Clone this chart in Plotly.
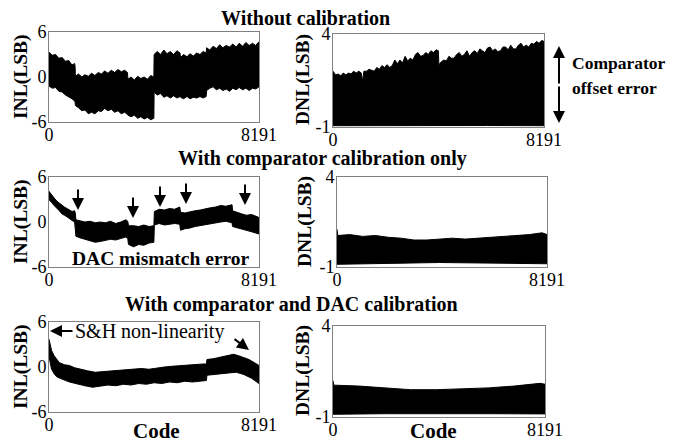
import plotly.graph_objects as go

# ---------------- data ----------------
N_CODES = 8191

# Panel 1: INL without calibration (upper / lower envelope, shared codes)
inl1_x = [0, 128, 256, 384, 512, 640, 768, 896, 1000, 1020,
          1030, 1150, 1280, 1400, 1536, 1660, 1790, 1920, 2048, 2170, 2300, 2430, 2560,
          2690, 2820, 2950, 3060,
          3080, 3200, 3330, 3460, 3580, 3710, 3840, 3970, 4090,
          4100, 4220, 4350, 4480, 4600, 4730, 4860, 4990, 5110,
          5130, 5250, 5380, 5500, 5630, 5760, 5890, 6010, 6130,
          6150, 6270, 6400, 6530, 6660, 6780, 6910, 7040, 7170, 7300, 7420, 7550,
          7680, 7810, 7940, 8060, 8191]
inl1_up = [3.3, 2.9, 3.0, 2.5, 2.6, 2.1, 2.2, 1.6, 1.8, 1.3,
           0.1, 0.4, 0.0, 0.3, 0.1, 0.5, 0.2, 0.6, 0.4, 0.8, 0.5, 0.9, 0.6,
           1.0, 0.7, 0.9, 0.6,
           -0.3, 0.0, -0.4, 0.1, -0.2, 0.0, -0.3, 0.2, 0.0,
           3.0, 3.4, 3.0, 3.6, 3.1, 3.4, 3.0, 3.5, 3.2,
           2.6, 3.0, 2.7, 3.1, 2.8, 3.2, 3.0, 3.4, 3.2,
           3.9, 3.6, 4.1, 3.8, 4.3, 3.9, 4.2, 4.0, 4.4, 4.0, 4.5, 4.1,
           4.6, 4.2, 4.5, 4.2, 4.7]
inl1_lo = [-1.2, -1.5, -1.4, -1.9, -2.0, -2.4, -2.7, -2.9, -3.2, -3.4,
           -3.8, -4.1, -4.5, -4.4, -4.9, -4.7, -4.9, -4.5, -4.6, -4.2, -4.5, -4.3, -4.7,
           -4.5, -4.9, -4.7, -5.0,
           -5.1, -5.3, -5.1, -5.5, -5.3, -5.6, -5.4, -5.7, -5.5,
           -2.0, -2.4, -2.2, -2.7, -2.5, -2.8, -2.5, -2.8, -2.6,
           -2.7, -2.9, -2.6, -2.9, -2.7, -2.8, -2.6, -2.8, -2.6,
           -1.8, -1.5, -1.3, -1.7, -1.5, -1.8, -1.6, -1.9, -1.5, -1.7, -1.4, -1.7,
           -1.5, -1.8, -1.5, -1.6, -1.3]

# Panel 2: DNL without calibration
dnl1_up_x = [0, 100, 200, 300, 400, 500, 600, 700, 800, 900, 1000, 1100, 1150, 1200,
             1300, 1400, 1500, 1600, 1700, 1800, 1900, 2000, 2100, 2200, 2300, 2400, 2500,
             2600, 2700, 2800, 2900, 3000, 3100, 3200, 3300, 3400, 3500, 3600, 3700, 3800,
             3900, 4000, 4090,
             4110, 4200, 4300, 4400, 4500, 4600, 4700, 4800, 4900, 5000, 5100, 5200, 5300,
             5400, 5500, 5600, 5700, 5800, 5900, 6000, 6100, 6200, 6300, 6400, 6500, 6600,
             6700, 6800, 6900, 7000, 7100, 7200, 7300, 7400, 7500, 7600, 7700, 7800, 7900,
             8000, 8100, 8191]
dnl1_up_y = [2.0, 1.8, 1.85, 1.75, 1.9, 1.8, 1.9, 1.85, 2.0, 1.9, 2.0, 1.9, 1.45, 2.0,
             2.0, 2.1, 2.05, 2.0, 2.2, 2.1, 2.3, 2.2, 2.35, 2.2, 2.3, 2.6, 2.4,
             2.6, 2.45, 2.8, 2.55, 2.7, 2.6, 2.9, 3.0, 2.8, 2.85, 3.0, 2.9, 3.1,
             3.0, 3.15, 3.1,
             2.35, 2.5, 2.6, 2.55, 2.8, 2.7, 2.7, 2.9, 3.0, 2.8, 2.9, 3.1, 2.8,
             3.0, 3.1, 2.95, 3.2, 3.1, 3.0, 3.25, 3.3, 3.1, 3.2, 3.05, 3.1, 3.3,
             3.3, 3.15, 3.4, 3.2, 3.2, 3.4, 3.5, 3.3, 3.4, 3.3, 3.5, 3.45, 3.6,
             3.5, 3.65, 3.6]
dnl1_lo_x = [0, 2000, 4000, 6000, 8191]
dnl1_lo_y = [-0.93, -0.92, -0.93, -0.92, -0.93]

# Panel 3: INL with comparator calibration only
inl2_x = [0, 100, 200, 300, 400, 500, 600, 700, 800, 900, 1000, 1024,
          1050, 1200, 1400, 1600, 1800, 2000, 2200, 2400, 2600, 2800, 3000, 3072,
          3100, 3300, 3500, 3700, 3900, 4090,
          4110, 4300, 4500, 4700, 4900, 5100,
          5130, 5300, 5500, 5700, 5900, 6100, 6300, 6500, 6700, 6900, 7140,
          7160, 7300, 7500, 7700, 7900, 8191]
inl2_up = [4.1, 3.6, 3.2, 2.8, 2.5, 2.2, 2.0, 1.8, 1.6, 1.4, 1.5, 1.2,
           0.3, 0.2, 0.0, 0.1, -0.1, 0.0, -0.1, 0.1, -0.2, 0.0, 0.3, 0.1,
           -0.5, -0.5, -0.6, -0.4, -0.6, -0.5,
           1.4, 1.7, 1.6, 1.8, 1.7, 2.0,
           1.3, 1.2, 1.4, 1.5, 1.6, 1.8, 1.9, 2.0, 2.2, 2.1, 2.3,
           1.5, 1.3, 1.1, 0.9, 1.0, 0.6]
inl2_lo = [3.0, 2.6, 2.2, 1.8, 1.5, 1.1, 0.9, 0.7, 0.5, 0.2, 0.0, -0.2,
           -1.9, -2.1, -2.4, -2.5, -2.7, -2.6, -2.5, -2.3, -2.4, -2.2, -2.0, -2.2,
           -3.0, -3.3, -3.0, -3.1, -2.8, -2.7,
           -0.4, -0.2, -0.4, -0.3, -0.2, -0.3,
           -1.1, -0.9, -0.8, -0.6, -0.5, -0.3, -0.2, -0.1, 0.0, 0.1, -0.1,
           -0.6, -0.8, -0.9, -1.1, -1.3, -1.6]

# Panel 4: DNL with comparator calibration only
dnl2_up_x = [0, 30, 500, 1000, 1500, 2000, 2500, 3000, 3500, 4000, 4500, 5000,
             5500, 6000, 6500, 7000, 7500, 8000, 8191]
dnl2_up_y = [1.1, 0.75, 0.8, 0.7, 0.75, 0.65, 0.6, 0.5, 0.5, 0.55, 0.6, 0.55,
             0.6, 0.65, 0.7, 0.75, 0.8, 0.9, 0.8]
dnl2_lo_x = [0, 2000, 4000, 6000, 8191]
dnl2_lo_y = [-0.85, -0.8, -0.75, -0.78, -0.82]

# Panel 5: INL with comparator and DAC calibration
inl3_up_x = [0, 50, 100, 200, 300, 400, 600, 800, 1000, 1200, 1500, 1800, 2100,
             2400, 2700, 3000, 3300, 3600, 3900, 4200, 4500, 4800, 5100, 5400,
             5700, 6000, 6140, 6160, 6400, 6700, 7000, 7200, 7400, 7600, 7800, 8000, 8191]
inl3_up_y = [3.7, 3.0, 2.2, 1.5, 1.0, 0.6, 0.3, 0.2, -0.1, -0.3, -0.5, -0.7, -0.6,
             -0.5, -0.4, -0.4, -0.3, -0.2, -0.3, -0.1, 0.0, 0.1, 0.2, 0.3,
             0.3, 0.4, 0.4, 1.0, 1.1, 1.3, 1.5, 1.7, 1.5, 1.3, 1.0, 0.6, 0.2]
inl3_lo_x = [0, 50, 100, 200, 300, 500, 800, 1100, 1400, 1700, 2000, 2300, 2600,
             2900, 3200, 3500, 3800, 4100, 4400, 4700, 5000, 5300, 5600, 5900,
             6140, 6160, 6400, 6700, 7000, 7300, 7600, 7900, 8191]
inl3_lo_y = [1.5, 0.5, -0.3, -0.9, -1.3, -1.6, -2.0, -2.3, -2.5, -2.7, -2.6, -2.4, -2.5,
             -2.3, -2.4, -2.2, -2.3, -2.1, -2.2, -2.0, -2.1, -1.9, -2.0, -1.9,
             -1.8, -1.1, -1.0, -0.9, -0.8, -0.7, -1.0, -1.5, -2.2]

# Panel 6: DNL with comparator and DAC calibration
dnl3_up_x = [0, 30, 1000, 2000, 3000, 4000, 5000, 6000, 7000, 8000, 8191]
dnl3_up_y = [1.0, 0.75, 0.7, 0.6, 0.5, 0.5, 0.55, 0.6, 0.7, 0.85, 0.8]
dnl3_lo_x = [0, 2000, 4000, 6000, 8191]
dnl3_lo_y = [-0.85, -0.82, -0.8, -0.82, -0.83]

x_ticks = [0, 8191]
x_ticktext = ["0", "8191"]
inl_ticks = [-6, 0, 6]
inl_ticktext = ["-6", "0", "6"]
dnl_ticks = [-1, 4]
dnl_ticktext = ["-1", "4"]

titles = ["Without calibration", "With comparator calibration only",
          "With comparator and DAC calibration"]

# ---------------- layout constants (pixels, in window coordinates) ----------------
OFF = 8            # page body margin
W, H = 675, 442    # figure size (overflow is cut by the window)
boxes = [  # x0, x1, y0(top), y1(bottom)
    (49, 259, 32, 122),
    (333, 544, 34, 127),
    (49, 259, 177, 267),
    (337, 547, 177, 267),
    (49, 259, 322, 412),
    (333, 545, 326, 417),
]

def px(x):
    return (x - OFF) / W

def py(y):
    return 1 - (y - OFF) / H

SERIF = "Liberation Serif"
fig = go.Figure()

envelopes = [
    (inl1_x, inl1_up, inl1_x, inl1_lo),
    (dnl1_up_x, dnl1_up_y, dnl1_lo_x, dnl1_lo_y),
    (inl2_x, inl2_up, inl2_x, inl2_lo),
    (dnl2_up_x, dnl2_up_y, dnl2_lo_x, dnl2_lo_y),
    (inl3_up_x, inl3_up_y, inl3_lo_x, inl3_lo_y),
    (dnl3_up_x, dnl3_up_y, dnl3_lo_x, dnl3_lo_y),
]

for i, (ux, uy, lx, ly) in enumerate(envelopes):
    k = "" if i == 0 else str(i + 1)
    fig.add_trace(go.Scatter(
        x=list(ux) + list(lx)[::-1], y=list(uy) + list(ly)[::-1],
        mode="lines", fill="toself", fillcolor="black",
        line=dict(color="black", width=1),
        xaxis="x" + k, yaxis="y" + k, showlegend=False, hoverinfo="skip"))

layout = dict(width=W, height=H,
              margin=dict(l=0, r=0, t=0, b=0, pad=0, autoexpand=False),
              paper_bgcolor="white", plot_bgcolor="white", showlegend=False)
for i, (x0, x1, y0, y1) in enumerate(boxes):
    k = "" if i == 0 else str(i + 1)
    is_inl = i % 2 == 0
    layout["xaxis" + k] = dict(
        domain=[px(x0), px(x1)], range=[0, N_CODES], anchor="y" + k,
        tickvals=x_ticks, ticktext=x_ticktext, ticks="", showgrid=False,
        zeroline=False, showline=True, mirror=True, linecolor="#808080",
        linewidth=1, automargin=False, ticklabelstandoff=-4,
        tickfont=dict(family=SERIF, size=18, color="black"))
    layout["yaxis" + k] = dict(
        domain=[py(y1), py(y0)], range=[-6, 6] if is_inl else [-1, 4],
        anchor="x" + k, tickvals=inl_ticks if is_inl else dnl_ticks,
        ticktext=inl_ticktext if is_inl else dnl_ticktext,
        ticks="", showgrid=False, zeroline=False, showline=True, mirror=True,
        linecolor="#808080", linewidth=1, automargin=False, ticklabelstandoff=-2,
        tickfont=dict(family=SERIF, size=18, color="black"))
fig.update_layout(**layout)

ann = []
def text(x, y, s, size=18, bold=True, angle=0, xanchor="center"):
    ann.append(dict(xref="paper", yref="paper", x=px(x), y=py(y),
                    text=("<b>%s</b>" % s) if bold else s, showarrow=False,
                    textangle=angle, xanchor=xanchor, yanchor="middle",
                    font=dict(family=SERIF, size=size, color="black")))

text(305, 18, titles[0], 20)
text(322, 158, titles[1], 20)
text(291, 304, titles[2], 20)
for yc in (77, 222, 367):
    text(21, yc, "INL(LSB)", 19.5, angle=-90)
text(303, 80, "DNL(LSB)", 19.5, angle=-90)
text(305, 222, "DNL(LSB)", 19.5, angle=-90)
text(303, 371, "DNL(LSB)", 19.5, angle=-90)
text(156, 431, "Code", 21)
text(433, 431, "Code", 21)
text(570, 63, "Comparator", 17.5, xanchor="left")
text(570, 88, "offset error", 17.5, xanchor="left")
text(161, 258, "DAC mismatch error", 19.5)
text(73, 331, "S&H non-linearity", 20, bold=False, xanchor="left")

def arrow(xt, yt, xs, ys, width=2):
    ann.append(dict(xref="paper", yref="paper", x=px(xt), y=py(yt),
                    ax=xs - xt, ay=ys - yt, axref="pixel", ayref="pixel",
                    text="", showarrow=True, arrowhead=2, arrowsize=1.2,
                    arrowwidth=width, arrowcolor="black"))

# double-headed arrow (comparator offset)
arrow(559, 46, 559, 85)
arrow(559, 123, 559, 85)
# DAC mismatch arrows
for (xt, yt) in [(78, 210), (133, 218), (160, 207), (186, 204), (245, 205)]:
    arrow(xt, yt, xt, yt - 22)
# S&H arrows
arrow(50, 331, 74, 331)
arrow(249, 350, 233, 338)

fig.update_layout(annotations=ann)
fig.write_html("out.html")
